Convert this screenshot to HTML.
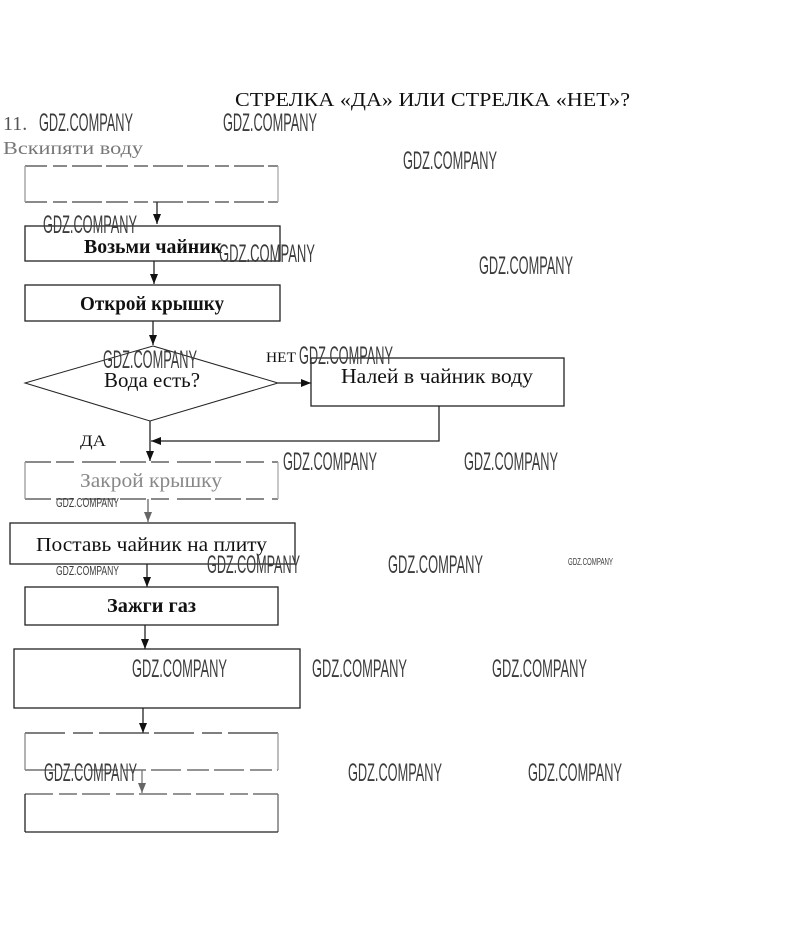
<!DOCTYPE html>
<html><head><meta charset="utf-8"><style>
html,body{margin:0;padding:0;background:#fff;}
svg{display:block;}
.t{font-family:"Liberation Serif","Noto Serif CJK SC",serif;fill:#111;}
.w{font-family:"Liberation Sans",sans-serif;fill:#3c3c3c;font-size:25px;}
</style></head><body>
<svg width="811" height="935" viewBox="0 0 811 935" xmlns="http://www.w3.org/2000/svg">
<defs>
<marker id="ah" markerWidth="10" markerHeight="8" refX="10" refY="4" orient="auto" markerUnits="userSpaceOnUse">
<path d="M0,0 L10,4 L0,8 z" fill="#111"/>
</marker>
<marker id="ahg" markerWidth="10" markerHeight="8" refX="10" refY="4" orient="auto" markerUnits="userSpaceOnUse">
<path d="M0,0 L10,4 L0,8 z" fill="#666"/>
</marker>
</defs>

<!-- title -->
<text class="t" x="235" y="106" font-size="20" textLength="395" lengthAdjust="spacingAndGlyphs">СТРЕЛКА «ДА» ИЛИ СТРЕЛКА «НЕТ»?</text>
<text class="t" x="3" y="130" font-size="20" style="fill:#555">11.</text>
<text class="t" x="3" y="154" font-size="18" textLength="140" lengthAdjust="spacingAndGlyphs" style="fill:#777">Вскипяти воду</text>

<g fill="none" stroke="#222" stroke-width="1.3">
<!-- box1 faded -->
<g stroke="#444" stroke-dasharray="22 6 14 5 30 4">
<line x1="25" y1="166" x2="278" y2="166"/>
<line x1="25" y1="202" x2="278" y2="202"/>
</g>
<line x1="25" y1="166" x2="25" y2="202" stroke="#999"/>
<line x1="278" y1="166" x2="278" y2="202" stroke="#aaa"/>
<line x1="157" y1="202" x2="157" y2="224" marker-end="url(#ah)"/>

<rect x="25" y="226" width="255" height="35"/>
<line x1="154" y1="261" x2="154" y2="284" marker-end="url(#ah)"/>
<rect x="25" y="285" width="255" height="36"/>
<line x1="153" y1="321" x2="153" y2="345" marker-end="url(#ah)"/>

<polygon points="153,346 278,383 150,421 25,383" stroke-width="1"/>
<line x1="278" y1="383" x2="311" y2="383" marker-end="url(#ah)"/>
<rect x="311" y="358" width="253" height="48"/>
<polyline points="439,406 439,441 151,441" marker-end="url(#ah)"/>
<line x1="150" y1="421" x2="150" y2="461" marker-end="url(#ah)"/>

<!-- box Закрой faded -->
<g stroke="#444" stroke-dasharray="26 5 18 8 34 4">
<line x1="25" y1="462" x2="278" y2="462"/>
<line x1="25" y1="499" x2="278" y2="499"/>
</g>
<line x1="25" y1="462" x2="25" y2="499" stroke="#999"/>
<line x1="278" y1="462" x2="278" y2="499" stroke="#aaa"/>
<line x1="148" y1="499" x2="148" y2="522" stroke="#666" marker-end="url(#ahg)"/>

<rect x="10" y="523" width="285" height="41"/>
<line x1="147" y1="564" x2="147" y2="587" marker-end="url(#ah)"/>
<rect x="25" y="587" width="253" height="38"/>
<line x1="145" y1="625" x2="145" y2="649" marker-end="url(#ah)"/>
<rect x="14" y="649" width="286" height="59"/>
<line x1="143" y1="708" x2="143" y2="733" marker-end="url(#ah)"/>

<!-- box5 faded -->
<g stroke="#333" stroke-dasharray="40 8 20 6 50 5">
<line x1="25" y1="733" x2="278" y2="733"/>
</g>
<line x1="25" y1="770" x2="278" y2="770" stroke="#555" stroke-dasharray="30 6 22 5"/>
<line x1="25" y1="733" x2="25" y2="770" stroke="#888"/>
<line x1="278" y1="733" x2="278" y2="770" stroke="#999"/>
<line x1="142" y1="770" x2="142" y2="793" stroke="#777" marker-end="url(#ahg)"/>

<!-- box6 -->
<line x1="25" y1="794" x2="278" y2="794" stroke="#555" stroke-dasharray="28 6 18 5"/>
<line x1="25" y1="794" x2="25" y2="832"/>
<line x1="278" y1="794" x2="278" y2="832" stroke="#666"/>
<line x1="25" y1="832" x2="278" y2="832"/>
</g>

<!-- node texts -->
<text class="t" x="84" y="253" font-size="20" font-weight="bold" textLength="138" lengthAdjust="spacingAndGlyphs">Возьми чайник</text>
<text class="t" x="80" y="310" font-size="20" font-weight="bold" textLength="144" lengthAdjust="spacingAndGlyphs">Открой крышку</text>
<text class="t" x="104" y="387" font-size="21" textLength="96" lengthAdjust="spacingAndGlyphs">Вода есть?</text>
<text class="t" x="341" y="383" font-size="21" textLength="192" lengthAdjust="spacingAndGlyphs">Налей в чайник  воду</text>
<text class="t" x="266" y="362" font-size="15" textLength="30" lengthAdjust="spacingAndGlyphs">НЕТ</text>
<text class="t" x="80" y="446" font-size="16" textLength="26" lengthAdjust="spacingAndGlyphs">ДА</text>
<text class="t" x="80" y="487" font-size="20" textLength="142" lengthAdjust="spacingAndGlyphs" style="fill:#888">Закрой крышку</text>
<text class="t" x="36" y="551" font-size="20" textLength="231" lengthAdjust="spacingAndGlyphs">Поставь  чайник  на  плиту</text>
<text class="t" x="107" y="612" font-size="20" font-weight="bold" textLength="89" lengthAdjust="spacingAndGlyphs">Зажги газ</text>

<!-- watermarks -->
<g class="w">
<text x="39" y="131" textLength="94" lengthAdjust="spacingAndGlyphs">GDZ.COMPANY</text>
<text x="223" y="131" textLength="94" lengthAdjust="spacingAndGlyphs">GDZ.COMPANY</text>
<text x="403" y="169" textLength="94" lengthAdjust="spacingAndGlyphs">GDZ.COMPANY</text>
<text x="43" y="233" textLength="94" lengthAdjust="spacingAndGlyphs">GDZ.COMPANY</text>
<text x="219" y="262" textLength="96" lengthAdjust="spacingAndGlyphs">GDZ.COMPANY</text>
<text x="479" y="274" textLength="94" lengthAdjust="spacingAndGlyphs">GDZ.COMPANY</text>
<text x="103" y="368" textLength="94" lengthAdjust="spacingAndGlyphs">GDZ.COMPANY</text>
<text x="299" y="364" textLength="94" lengthAdjust="spacingAndGlyphs">GDZ.COMPANY</text>
<text x="283" y="470" textLength="94" lengthAdjust="spacingAndGlyphs">GDZ.COMPANY</text>
<text x="464" y="470" textLength="94" lengthAdjust="spacingAndGlyphs">GDZ.COMPANY</text>
<text x="56" y="507" font-size="13" textLength="63" lengthAdjust="spacingAndGlyphs">GDZ.COMPANY</text>
<text x="56" y="575" font-size="13" textLength="63" lengthAdjust="spacingAndGlyphs">GDZ.COMPANY</text>
<text x="207" y="573" textLength="93" lengthAdjust="spacingAndGlyphs">GDZ.COMPANY</text>
<text x="388" y="573" textLength="95" lengthAdjust="spacingAndGlyphs">GDZ.COMPANY</text>
<text x="568" y="565" font-size="10" textLength="45" lengthAdjust="spacingAndGlyphs">GDZ.COMPANY</text>
<text x="132" y="677" textLength="95" lengthAdjust="spacingAndGlyphs">GDZ.COMPANY</text>
<text x="312" y="677" textLength="95" lengthAdjust="spacingAndGlyphs">GDZ.COMPANY</text>
<text x="492" y="677" textLength="95" lengthAdjust="spacingAndGlyphs">GDZ.COMPANY</text>
<text x="44" y="781" textLength="93" lengthAdjust="spacingAndGlyphs">GDZ.COMPANY</text>
<text x="348" y="781" textLength="94" lengthAdjust="spacingAndGlyphs">GDZ.COMPANY</text>
<text x="528" y="781" textLength="94" lengthAdjust="spacingAndGlyphs">GDZ.COMPANY</text>
</g>
</svg>
</body></html>
